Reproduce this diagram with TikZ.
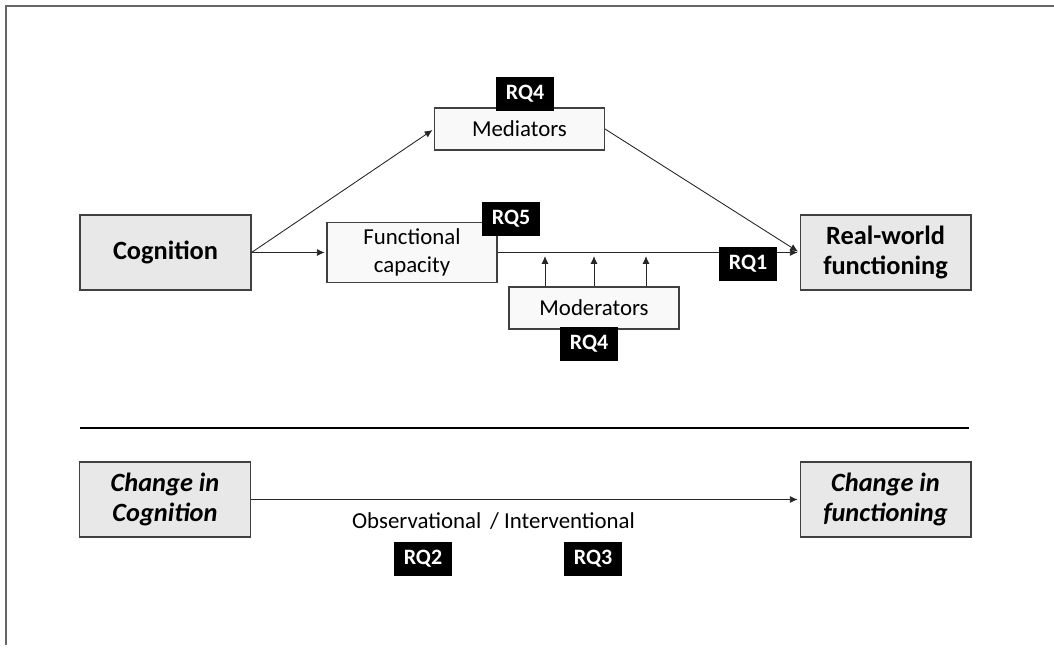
\documentclass[tikz,border=0pt]{standalone}
\usepackage{fontspec}
\setmainfont{Carlito}
\usetikzlibrary{arrows.meta}

\begin{document}
\begin{tikzpicture}[x=0.02cm,y=-0.02cm,shorten >=1pt,>={Latex[length=4.5pt,width=4pt]}]
    \tikzstyle{bigbox}=[draw=black!75,fill=gray!18,line width=0.6pt,minimum width=3.42cm,minimum height=1.5cm,align=center,font=\fontsize{15}{17.5}\selectfont\bfseries]
    \tikzstyle{smallbox}=[draw=black!75,fill=gray!5,line width=0.6pt,minimum width=3.4cm,minimum height=0.84cm,align=center,font=\fontsize{13}{16}\selectfont]
    \tikzstyle{rq}=[fill=black,text=white,minimum width=1.16cm,minimum height=0.68cm,inner sep=0pt,font=\fontsize{12.5}{15}\selectfont\bfseries]
    \tikzstyle{conn}=[->,line width=0.5pt,draw=black!85]
    \useasboundingbox (0,0) rectangle (1054,647);
    \draw[line width=1.2pt,black!60] (1054,6) -- (6,6) -- (6,647);

    % upper model
    \node[bigbox] (cog) at (165.5,252.5) {Cognition};
    \node[bigbox] (rwf) at (885.5,252.5) {Real-world\\functioning};
    \node[smallbox] (med) at (519.5,129) {Mediators};
    \node[smallbox,minimum height=1.06cm] (fc) at (412,252.5) {Functional\\capacity};
    \node[smallbox] (mod) at (594,308) {Moderators};

    \draw[conn] (cog.east) -- (med.west);
    \draw[conn] (med.east) -- (rwf.west);
    \draw[conn] (cog.east) -- (fc.west);
    \draw[conn] (fc.east) -- (rwf.west);
    \foreach \x in {545,594,646}
        \draw[conn,shorten >=2pt] (mod.north -| \x,0) -- (fc.east -| \x,0);

    \node[rq] (rq4a) at (525,93.5) {RQ4};
    \node[rq] (rq5) at (511,219) {RQ5};
    \node[rq] (rq4b) at (589,343.5) {RQ4};
    \node[rq] (rq1) at (748,264) {RQ1};

    \draw[line width=1.6pt] (80,428) -- (971,428);

    % change model
    \node[bigbox,font=\fontsize{15}{17.5}\selectfont\bfseries\itshape] (ccog) at (165,499.5) {Change in\\Cognition};
    \node[bigbox,font=\fontsize{15}{17.5}\selectfont\bfseries\itshape] (cfun) at (885.5,499.5) {Change in\\functioning};
    \draw[conn] (ccog.east) -- (cfun.west);
    \node[font=\fontsize{13}{16}\selectfont] (design) at (493.5,521) {Observational \,/ Interventional};
    \node[rq] (rq2) at (423,558.5) {RQ2};
    \node[rq] (rq3) at (593,558.5) {RQ3};
\end{tikzpicture}
\end{document}
